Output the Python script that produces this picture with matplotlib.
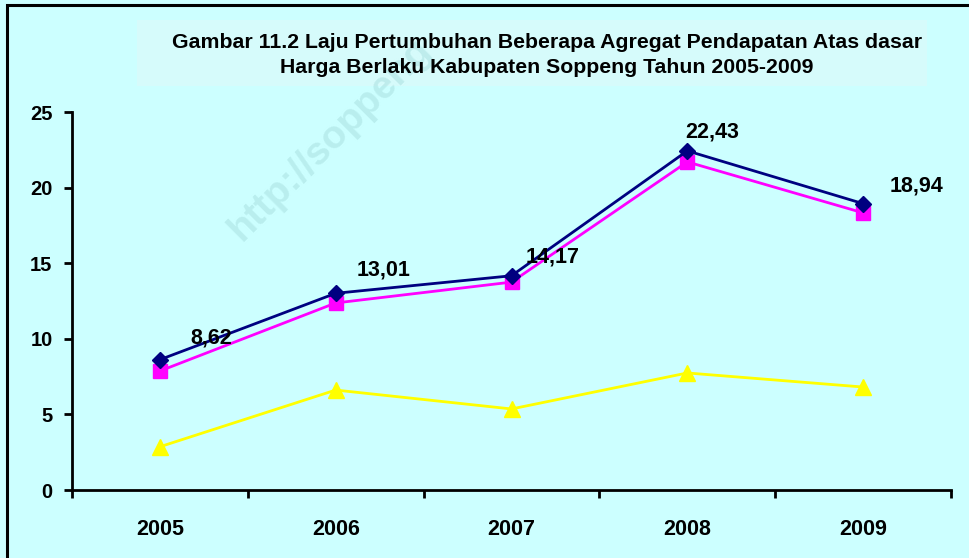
import matplotlib
matplotlib.use("Agg")
import matplotlib.pyplot as plt
from matplotlib.patches import Rectangle

years = ["2005", "2006", "2007", "2008", "2009"]
series_blue = [8.62, 13.01, 14.17, 22.43, 18.94]
series_pink = [7.87, 12.37, 13.75, 21.70, 18.33]
series_yellow = [2.86, 6.61, 5.36, 7.74, 6.81]
blue_labels = ["8,62", "13,01", "14,17", "22,43", "18,94"]
y_ticks = [0, 5, 10, 15, 20, 25]
title = "Gambar 11.2 Laju Pertumbuhan Beberapa Agregat Pendapatan Atas dasar\nHarga Berlaku Kabupaten Soppeng Tahun 2005-2009"

plt.rcParams['font.family'] = ['Liberation Sans', 'DejaVu Sans']
plt.rcParams['font.weight'] = 'bold'

W, H = 969, 558
bg = '#CCFFFF'
fig = plt.figure(figsize=(W / 100, H / 100), dpi=100, facecolor=bg)

# border (left and top visible)
fig.patches.append(Rectangle((7 / W, -0.05), 1.2, 1 - 5 / H + 0.05, transform=fig.transFigure,
                             fill=False, edgecolor='black', linewidth=2.2, zorder=0))
# title box
fig.patches.append(Rectangle((137 / W, 1 - 86 / H), (927 - 137) / W, 66 / H, transform=fig.transFigure,
                             facecolor='#D6FBFB', edgecolor='none', zorder=0))

# watermark
fig.text(330 / W, 1 - 140 / H, "http://soppeng", rotation=45, fontsize=28,
         color='#A6DEDE', alpha=0.5, ha='center', va='center', fontweight='bold', zorder=0)

fig.text(547 / W, 1 - 55 / H, title, ha='center', va='center', fontsize=15.3,
         fontweight='bold', linespacing=1.38)

ax = fig.add_axes([72 / W, 1 - 490 / H, (951 - 72) / W, (490 - 112) / H])
ax.set_facecolor('none')
x = list(range(len(years)))

ax.plot(x, series_yellow, color='#FFFF00', lw=2.0, marker='^', ms=12, zorder=3)
ax.plot(x, series_pink, color='#FF00FF', lw=2.0, marker='s', ms=10.5, zorder=4)
ax.plot(x, series_blue, color='#000080', lw=2.0, marker='D', ms=8, zorder=5)

offsets = [(51, 22), (48, 23), (41, 19), (25, 19), (53, 18)]
for xi, yi, lab, off in zip(x, series_blue, blue_labels, offsets):
    ax.annotate(lab, (xi, yi), xytext=off, textcoords='offset pixels', ha='center',
                va='center', fontsize=15.5, fontweight='bold', zorder=6)

ax.set_xlim(-0.5, 4.5)
ax.set_ylim(0, 25)
ax.set_yticks(y_ticks)
ax.set_yticklabels([str(v) for v in y_ticks])
ax.set_xticks(x)
ax.set_xticklabels(years)
ax.set_xticks([i - 0.5 for i in range(len(years) + 1)], minor=True)
ax.tick_params(axis='x', which='major', length=0, pad=21, labelsize=15.5)
ax.tick_params(axis='x', which='minor', length=6, width=2, direction='out')
ax.tick_params(axis='y', length=6, width=2, pad=8, labelsize=14.5)
for lab in ax.get_xticklabels() + ax.get_yticklabels():
    lab.set_fontweight('bold')
for s in ['top', 'right']:
    ax.spines[s].set_visible(False)
for s in ['left', 'bottom']:
    ax.spines[s].set_linewidth(2)

fig.savefig('out.png', dpi=100, facecolor=bg)
